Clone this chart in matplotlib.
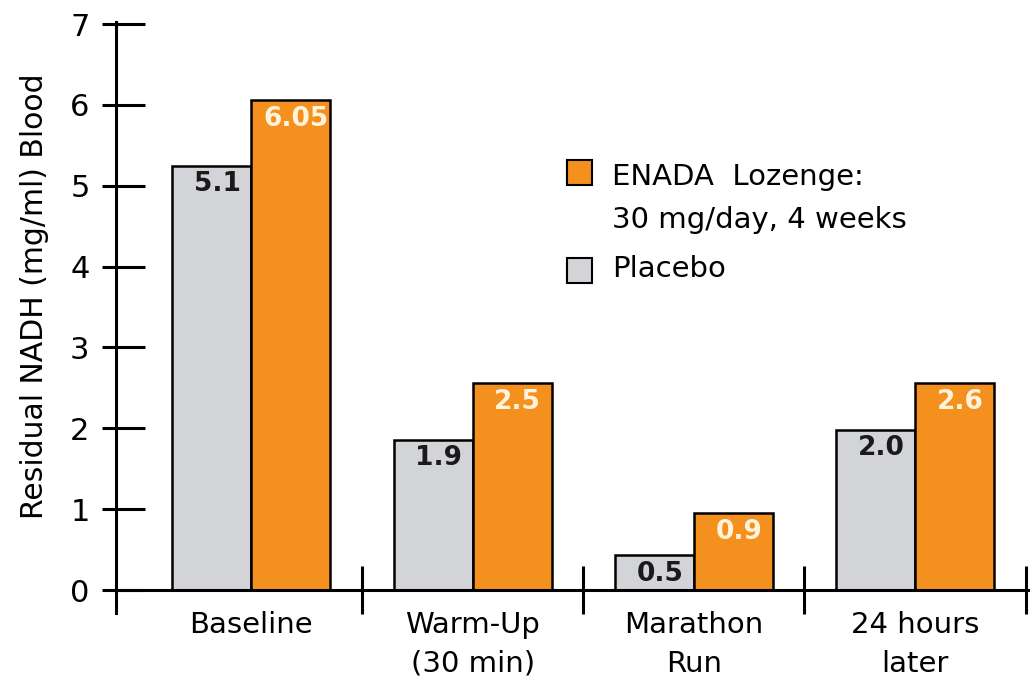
import matplotlib
matplotlib.use("Agg")
import matplotlib.pyplot as plt
from matplotlib.patches import Rectangle
import numpy as np

categories = ["Baseline", "Warm-Up\n(30 min)", "Marathon\nRun", "24 hours\nlater"]
placebo = [5.25, 1.86, 0.43, 1.98]
enada = [6.06, 2.56, 0.95, 2.56]
placebo_labels = ["5.1", "1.9", "0.5", "2.0"]
enada_labels = ["6.05", "2.5", "0.9", "2.6"]
yticks = [0, 1, 2, 3, 4, 5, 6, 7]

orange = "#F4901E"
grey = "#D3D4D8"

plt.rcParams["font.family"] = ["DejaVu Sans"]

fig = plt.figure(figsize=(10.3, 6.83), dpi=100)
ax = fig.add_axes([116 / 1030, 1 - 613 / 683, 1 - 116 / 1030, (613 - 22) / 683])

x = np.arange(len(categories))
w = 0.357
b1 = ax.bar(x - w / 2, placebo, w, color=grey, edgecolor="black", linewidth=1.8, zorder=2)
b2 = ax.bar(x + w / 2, enada, w, color=orange, edgecolor="black", linewidth=1.8, zorder=2)

for bars, labels, col in [(b1, placebo_labels, "#1a1a1a"), (b2, enada_labels, "#FFF3DC")]:
    for rect, lab in zip(bars, labels):
        ax.annotate(lab, (rect.get_x() + rect.get_width() / 2, rect.get_height()),
                    xytext=(4, -4), textcoords="offset points", ha="center", va="top",
                    fontsize=19, fontweight="bold", color=col, zorder=3)

ax.set_xlim(-0.612, 3.52)
ax.set_ylim(-0.284, 7.025)
ax.spines["top"].set_visible(False)
ax.spines["right"].set_visible(False)
ax.spines["bottom"].set_position(("data", 0))
ax.spines["left"].set_linewidth(2.2)
ax.spines["bottom"].set_linewidth(2.2)

# y ticks: long part inside, short part outside
ax.set_yticks(yticks)
ax.set_yticks(yticks, minor=True)
ax.yaxis.remove_overlapping_locs = False
ax.tick_params(axis="y", which="major", direction="in", length=21, width=2.2, labelsize=22, pad=19)
ax.tick_params(axis="y", which="minor", direction="out", length=10, width=2.2)

ax.set_xticks([0.5, 1.5, 2.5, 3.5])
ax.set_xticklabels([])
ax.set_xticks(x, minor=True)
ax.set_xticklabels(categories, minor=True, fontsize=21, linespacing=1.5)
ax.tick_params(axis="x", which="major", direction="inout", length=34, width=2.2)
ax.tick_params(axis="x", which="minor", length=0, pad=15)

fig.text(35 / 1030, 1 - 296 / 683, "Residual NADH (mg/ml) Blood", rotation=90,
         ha="center", va="center", fontsize=21.5)

# legend drawn by hand to keep the box next to the first line
fig.patches.append(Rectangle((567 / 1030, 1 - 185 / 683), 25 / 1030, 25 / 683,
                             transform=fig.transFigure, facecolor=orange,
                             edgecolor="black", linewidth=1.5))
fig.patches.append(Rectangle((567 / 1030, 1 - 283 / 683), 25 / 1030, 25 / 683,
                             transform=fig.transFigure, facecolor=grey,
                             edgecolor="black", linewidth=1.5))
fig.text(612 / 1030, 1 - 185 / 683, "ENADA  Lozenge:", fontsize=21, va="baseline")
fig.text(612 / 1030, 1 - 228 / 683, "30 mg/day, 4 weeks", fontsize=21, va="baseline")
fig.text(612 / 1030, 1 - 277 / 683, "Placebo", fontsize=21, va="baseline")

fig.savefig("out.png", dpi=100)
